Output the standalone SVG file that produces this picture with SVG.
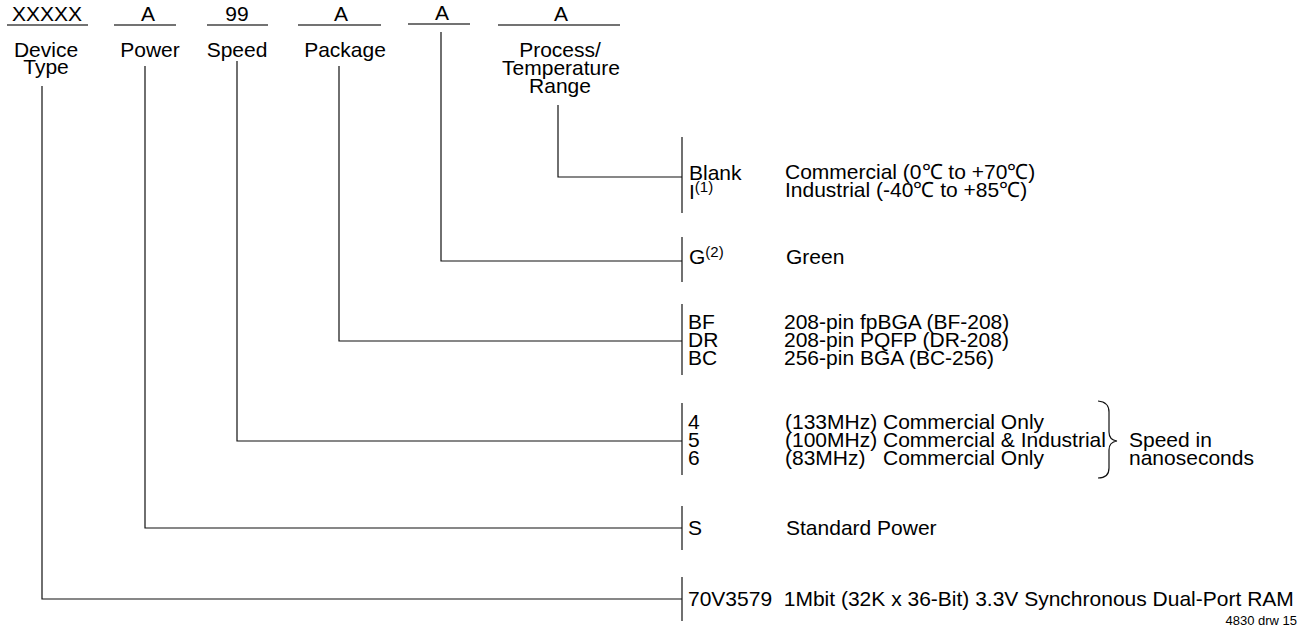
<svg xmlns="http://www.w3.org/2000/svg" width="1307" height="631" viewBox="0 0 1307 631">
<style>
text{font-family:"Liberation Sans",Arial,sans-serif;font-size:21px;fill:#000}
.c{text-anchor:middle}
.sup{font-size:15px}
.small{font-size:13px;text-anchor:end}
.ul{stroke:#444;stroke-width:1.5;fill:none}
.ln{stroke:#111;stroke-width:1.2;fill:none}
</style>
<rect width="1307" height="631" fill="#fff"/>
<g id="header">
  <g id="f-device"><text class="c" x="47" y="21">XXXXX</text><line class="ul" x1="7" y1="25" x2="88" y2="25"/><text class="c" x="46" y="57">Device</text><text class="c" x="46" y="74">Type</text></g>
  <g id="f-power"><text class="c" x="148" y="21">A</text><line class="ul" x1="114" y1="25" x2="176" y2="25"/><text class="c" x="150" y="57">Power</text></g>
  <g id="f-speed"><text class="c" x="237" y="21">99</text><line class="ul" x1="207" y1="25" x2="268" y2="25"/><text class="c" x="237" y="57">Speed</text></g>
  <g id="f-package"><text class="c" x="341" y="21">A</text><line class="ul" x1="298" y1="25" x2="381" y2="25"/><text class="c" x="345" y="57">Package</text></g>
  <g id="f-green"><text class="c" x="442" y="20">A</text><line class="ul" x1="408" y1="24" x2="470" y2="24"/></g>
  <g id="f-process"><text class="c" x="561" y="21">A</text><line class="ul" x1="498" y1="25" x2="620" y2="25"/><text class="c" x="560" y="57">Process/</text><text class="c" x="561" y="75">Temperature</text><text class="c" x="560" y="93">Range</text></g>
</g>
<g id="connectors">
  <polyline class="ln" points="558,105 558,177 682,177"/>
  <line class="ln" x1="682" y1="137" x2="682" y2="213"/>
  <polyline class="ln" points="441,32 441,261 682,261"/>
  <line class="ln" x1="682" y1="237" x2="682" y2="282"/>
  <polyline class="ln" points="339,66 339,341 682,341"/>
  <line class="ln" x1="682" y1="304" x2="682" y2="375"/>
  <polyline class="ln" points="237,61 237,441 682,441"/>
  <line class="ln" x1="682" y1="403" x2="682" y2="475"/>
  <polyline class="ln" points="145,66 145,528 682,528"/>
  <line class="ln" x1="682" y1="506" x2="682" y2="550"/>
  <polyline class="ln" points="42,86 42,599 682,599"/>
  <line class="ln" x1="682" y1="577" x2="682" y2="621"/>
  <path class="ln" d="M1098,401 Q1109,402 1109,412 L1109,432 Q1109,440 1117,441 Q1109,442 1109,450 L1109,468 Q1109,478 1098,478"/>
</g>
<g id="n-process">
  <text x="689" y="180">Blank</text>
  <text x="689" y="199">I<tspan class="sup" dy="-7">(1)</tspan></text>
  <text x="785" y="179">Commercial (0℃ to +70℃)</text>
  <text x="785" y="197">Industrial (-40℃ to +85℃)</text>
</g>
<g id="n-green">
  <text x="689" y="264">G<tspan class="sup" dy="-7">(2)</tspan></text>
  <text x="786" y="264">Green</text>
</g>
<g id="n-package">
  <text x="688" y="329">BF</text><text x="784" y="329">208-pin fpBGA (BF-208)</text>
  <text x="688" y="347">DR</text><text x="784" y="347">208-pin PQFP (DR-208)</text>
  <text x="688" y="365">BC</text><text x="784" y="365">256-pin BGA (BC-256)</text>
</g>
<g id="n-speed">
  <text x="688" y="429">4</text><text x="785" y="429">(133MHz) Commercial Only</text>
  <text x="688" y="447">5</text><text x="785" y="447">(100MHz) Commercial &amp; Industrial</text>
  <text x="688" y="465">6</text><text x="785" y="465">(83MHz)</text><text x="883" y="465">Commercial Only</text>
  <text x="1129" y="447">Speed in</text>
  <text x="1129" y="465">nanoseconds</text>
</g>
<g id="n-power">
  <text x="688" y="535">S</text><text x="786" y="535">Standard Power</text>
</g>
<g id="n-device">
  <text x="688" y="606" xml:space="preserve">70V3579  1Mbit (32K x 36-Bit) 3.3V Synchronous Dual-Port RAM</text>
  <text class="small" x="1297" y="625">4830 drw 15</text>
</g>
</svg>
